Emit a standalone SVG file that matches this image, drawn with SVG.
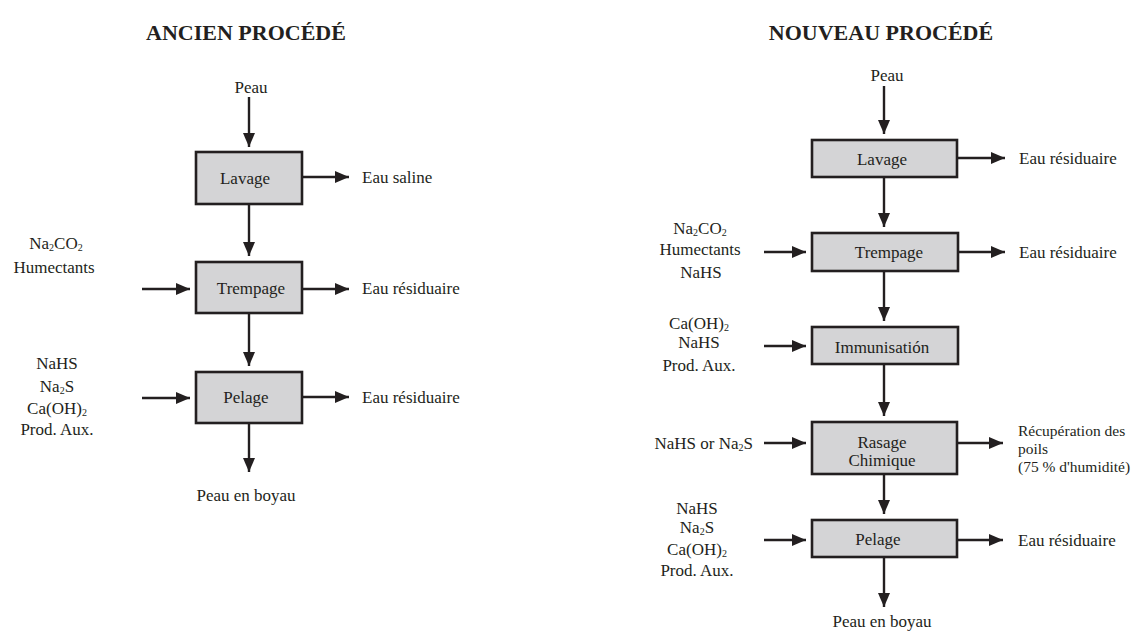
<svg xmlns="http://www.w3.org/2000/svg" width="1148" height="632" viewBox="0 0 1148 632" font-family="'Liberation Serif','Times New Roman',serif">
<defs>
<marker id="ah" markerUnits="userSpaceOnUse" markerWidth="14" markerHeight="12" refX="14" refY="6" orient="auto">
<path d="M0,0 L14,6 L0,12 z" fill="#231f20"/>
</marker>
<style>
text{font-family:"Liberation Serif","Times New Roman",serif;font-size:17px;fill:#231f20}
.t{font-weight:bold;font-size:22px;text-anchor:middle}
.c{text-anchor:middle}
.e{text-anchor:end}
.box{fill:#d4d4d6;stroke:#231f20;stroke-width:2.6}
.con line{stroke:#231f20;stroke-width:2.4;marker-end:url(#ah)}
.s{font-size:10px}
.r{font-size:15.5px}
</style>
</defs>
<rect width="1148" height="632" fill="#fff"/>

<text class="t" x="246" y="40">ANCIEN PROCÉDÉ</text>
<text class="t" x="881" y="40">NOUVEAU PROCÉDÉ</text>

<g class="con" id="connectors">
<line x1="249" y1="97" x2="249" y2="147"/>
<line x1="302" y1="177" x2="349" y2="177"/>
<line x1="249" y1="204" x2="249" y2="256"/>
<line x1="142" y1="289" x2="190" y2="289"/>
<line x1="302" y1="289" x2="349" y2="289"/>
<line x1="249" y1="313" x2="249" y2="366"/>
<line x1="142" y1="398" x2="190" y2="398"/>
<line x1="302" y1="397" x2="349" y2="397"/>
<line x1="249" y1="423" x2="249" y2="472"/>
<line x1="884" y1="86" x2="884" y2="134"/>
<line x1="957" y1="158" x2="1005" y2="158"/>
<line x1="884" y1="177" x2="884" y2="227"/>
<line x1="764" y1="252" x2="806" y2="252"/>
<line x1="958" y1="252" x2="1005" y2="252"/>
<line x1="884" y1="271" x2="884" y2="321"/>
<line x1="764" y1="346" x2="806" y2="346"/>
<line x1="884" y1="364" x2="884" y2="416"/>
<line x1="764" y1="443" x2="806" y2="443"/>
<line x1="957" y1="443" x2="1003" y2="443"/>
<line x1="884" y1="474" x2="884" y2="514"/>
<line x1="764" y1="540" x2="806" y2="540"/>
<line x1="957" y1="540" x2="1003" y2="540"/>
<line x1="884" y1="557" x2="884" y2="607"/>
</g>

<g id="a-peau"><text class="c" x="251" y="93">Peau</text></g>
<g id="a-lavage"><rect class="box" x="196" y="152" width="106" height="52"/><text class="c" x="245" y="184">Lavage</text></g>
<g id="a-eausaline"><text x="362" y="183">Eau saline</text></g>
<g id="a-in1">
<text class="c" x="56" y="249">Na<tspan class="s" dy="2">2</tspan><tspan dy="-2">CO</tspan><tspan class="s" dy="2">2</tspan></text>
<text class="c" x="54" y="273">Humectants</text>
</g>
<g id="a-trempage"><rect class="box" x="196" y="262" width="106" height="51"/><text class="c" x="251" y="294">Trempage</text></g>
<g id="a-out2"><text x="362" y="294">Eau résiduaire</text></g>
<g id="a-in2">
<text class="c" x="57" y="369">NaHS</text>
<text class="c" x="57" y="392">Na<tspan class="s" dy="2">2</tspan><tspan dy="-2">S</tspan></text>
<text class="c" x="57" y="414">Ca(OH)<tspan class="s" dy="2">2</tspan></text>
<text class="c" x="57" y="435">Prod. Aux.</text>
</g>
<g id="a-pelage"><rect class="box" x="196" y="372" width="106" height="51"/><text class="c" x="246" y="403">Pelage</text></g>
<g id="a-out3"><text x="362" y="403">Eau résiduaire</text></g>
<g id="a-boyau"><text class="c" x="246" y="501">Peau en boyau</text></g>

<g id="b-peau"><text class="c" x="887" y="81">Peau</text></g>
<g id="b-lavage"><rect class="box" x="812" y="140" width="145" height="37"/><text class="c" x="882" y="165">Lavage</text></g>
<g id="b-out1"><text x="1019" y="164">Eau résiduaire</text></g>
<g id="b-in1">
<text class="c" x="700" y="234">Na<tspan class="s" dy="2">2</tspan><tspan dy="-2">CO</tspan><tspan class="s" dy="2">2</tspan></text>
<text class="c" x="700" y="255">Humectants</text>
<text class="c" x="701" y="278">NaHS</text>
</g>
<g id="b-trempage"><rect class="box" x="812" y="233" width="146" height="38"/><text class="c" x="889" y="258">Trempage</text></g>
<g id="b-out2"><text x="1019" y="258">Eau résiduaire</text></g>
<g id="b-in2">
<text class="c" x="699" y="329">Ca(OH)<tspan class="s" dy="2">2</tspan></text>
<text class="c" x="699" y="348">NaHS</text>
<text class="c" x="699" y="371">Prod. Aux.</text>
</g>
<g id="b-immun"><rect class="box" x="812" y="327" width="146" height="37"/><text class="c" x="882" y="353">Immunisatión</text></g>
<g id="b-in3"><text class="e" x="753" y="449">NaHS or Na<tspan class="s" dy="2">2</tspan><tspan dy="-2">S</tspan></text></g>
<g id="b-rasage"><rect class="box" x="812" y="422" width="145" height="52"/><text class="c" x="882" y="448">Rasage</text><text class="c" x="882" y="466">Chimique</text></g>
<g id="b-out3">
<text class="r" x="1018" y="436">Récupération des</text>
<text class="r" x="1018" y="454">poils</text>
<text class="r" x="1018" y="472">(75 % d'humidité)</text>
</g>
<g id="b-in4">
<text class="c" x="697" y="514">NaHS</text>
<text class="c" x="697" y="533">Na<tspan class="s" dy="2">2</tspan><tspan dy="-2">S</tspan></text>
<text class="c" x="697" y="555">Ca(OH)<tspan class="s" dy="2">2</tspan></text>
<text class="c" x="697" y="576">Prod. Aux.</text>
</g>
<g id="b-pelage"><rect class="box" x="812" y="520" width="145" height="37"/><text class="c" x="878" y="545">Pelage</text></g>
<g id="b-out4"><text x="1018" y="546">Eau résiduaire</text></g>
<g id="b-boyau"><text class="c" x="882" y="627">Peau en boyau</text></g>
</svg>
